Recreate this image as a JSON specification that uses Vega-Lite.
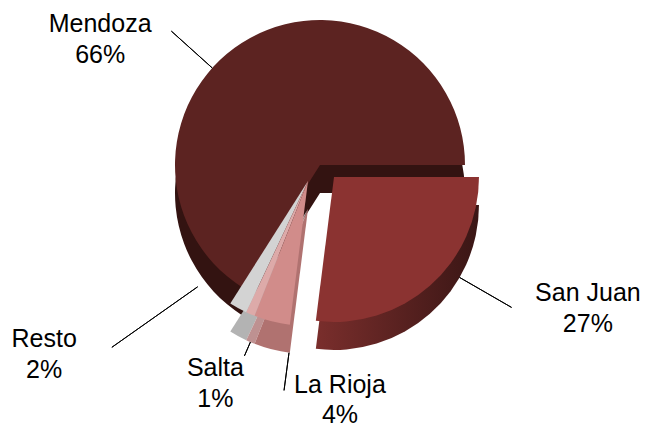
{
  "$schema": "https://vega.github.io/schema/vega-lite/v6.json",
  "width": 640,
  "height": 330,
  "padding": {"left": 0, "top": 0, "right": 5, "bottom": 100},
  "autosize": {"type": "none"},
  "background": "white",
  "view": {"stroke": null},
  "data": {"values": [
    {"region": "San Juan", "pct": 27},
    {"region": "La Rioja", "pct": 4},
    {"region": "Salta", "pct": 1},
    {"region": "Resto", "pct": 2},
    {"region": "Mendoza", "pct": 66}
  ]},
  "transform": [
    {"stack": "pct", "groupby": [], "as": ["s", "e"]},
    {"calculate": "(datum.s + datum.e) / 2", "as": "mid"},
    {"calculate": "datum.region + '\\n' + datum.pct + '%'", "as": "label"}
  ],
  "encoding": {
    "theta": {"field": "s", "type": "quantitative", "scale": {"domain": [0, 100], "range": [1.5708, 7.854]}},
    "theta2": {"field": "e"}
  },
  "layer": [
    {"transform": [{"filter": "datum.region == 'Mendoza'"}], "mark": {"type": "arc", "outerRadius": 145, "yOffset": 28, "fill": "#331311"}},
    {"transform": [{"filter": "datum.region == 'Resto'"}], "mark": {"type": "arc", "outerRadius": 145, "xOffset": -12, "yOffset": 44, "fill": "#B3B3B3"}},
    {"transform": [{"filter": "datum.region == 'Salta'"}], "mark": {"type": "arc", "outerRadius": 145, "xOffset": -12, "yOffset": 44, "fill": "#BE9191"}},
    {"transform": [{"filter": "datum.region == 'La Rioja'"}], "mark": {"type": "arc", "outerRadius": 145, "xOffset": -12, "yOffset": 44, "fill": "#B07270"}},
    {"transform": [{"filter": "datum.region == 'San Juan'"}], "mark": {"type": "arc", "outerRadius": 145, "xOffset": 14, "yOffset": 40, "fill": {"gradient": "linear", "x1": 0, "y1": 0, "x2": 1, "y2": 0, "stops": [{"offset": 0, "color": "#7A2E2C"}, {"offset": 1, "color": "#3A1615"}]}}},
    {"transform": [{"filter": "datum.region == 'Mendoza'"}], "mark": {"type": "arc", "outerRadius": 145, "fill": "#5C2321"}},
    {"transform": [{"filter": "datum.region == 'Resto'"}], "mark": {"type": "arc", "outerRadius": 145, "xOffset": -12, "yOffset": 16, "fill": "#D3D3D3"}},
    {"transform": [{"filter": "datum.region == 'Salta'"}], "mark": {"type": "arc", "outerRadius": 145, "xOffset": -12, "yOffset": 16, "fill": "#DDAAA9"}},
    {"transform": [{"filter": "datum.region == 'La Rioja'"}], "mark": {"type": "arc", "outerRadius": 145, "xOffset": -12, "yOffset": 16, "fill": "#D18C8A"}},
    {"transform": [{"filter": "datum.region == 'San Juan'"}], "mark": {"type": "arc", "outerRadius": 145, "xOffset": 14, "yOffset": 12, "fill": "#8B3331"}},
    {"transform": [{"filter": "datum.region == 'Mendoza'"}], "mark": {"type": "arc", "innerRadius": 145, "outerRadius": 200, "thetaOffset": -0.335, "theta2Offset": -0.335, "fill": "transparent", "stroke": "#000000", "strokeWidth": 1}, "encoding": {"theta": {"field": "mid", "type": "quantitative"}, "theta2": {"field": "mid"}}},
    {"transform": [{"filter": "datum.region == 'San Juan'"}], "mark": {"type": "arc", "innerRadius": 145, "outerRadius": 205, "xOffset": 14, "yOffset": 40, "thetaOffset": -0.325, "theta2Offset": -0.325, "fill": "transparent", "stroke": "#000000", "strokeWidth": 1}, "encoding": {"theta": {"field": "mid", "type": "quantitative"}, "theta2": {"field": "mid"}}},
    {"transform": [{"filter": "datum.region == 'La Rioja'"}], "mark": {"type": "arc", "innerRadius": 145, "outerRadius": 183, "xOffset": -12, "yOffset": 44, "thetaOffset": -0.12, "theta2Offset": -0.12, "fill": "transparent", "stroke": "#000000", "strokeWidth": 1}, "encoding": {"theta": {"field": "mid", "type": "quantitative"}, "theta2": {"field": "mid"}}},
    {"transform": [{"filter": "datum.region == 'Salta'"}], "mark": {"type": "arc", "innerRadius": 145, "outerRadius": 160, "xOffset": -12, "yOffset": 44, "fill": "transparent", "stroke": "#000000", "strokeWidth": 1}, "encoding": {"theta": {"field": "mid", "type": "quantitative"}, "theta2": {"field": "mid"}}},
    {"transform": [{"filter": "datum.region == 'Resto'"}], "mark": {"type": "arc", "innerRadius": 135, "outerRadius": 240, "xOffset": -12, "yOffset": 44, "thetaOffset": 0.454, "theta2Offset": 0.454, "fill": "transparent", "stroke": "#000000", "strokeWidth": 1}, "encoding": {"theta": {"field": "mid", "type": "quantitative"}, "theta2": {"field": "mid"}}},
    {"transform": [{"filter": "datum.region == 'Mendoza'"}], "mark": {"type": "text", "radius": 145, "dx": -150, "dy": -14, "font": "Liberation Sans", "fontSize": 25, "lineHeight": 31, "lineBreak": "\n", "align": "center", "baseline": "middle", "color": "#000000"}, "encoding": {"theta": {"field": "mid", "type": "quantitative"}, "theta2": null, "text": {"field": "label"}}},
    {"transform": [{"filter": "datum.region == 'San Juan'"}], "mark": {"type": "text", "radius": 145, "dx": 172, "dy": 19, "font": "Liberation Sans", "fontSize": 25, "lineHeight": 31, "lineBreak": "\n", "align": "center", "baseline": "middle", "color": "#000000"}, "encoding": {"theta": {"field": "mid", "type": "quantitative"}, "theta2": null, "text": {"field": "label"}}},
    {"transform": [{"filter": "datum.region == 'La Rioja'"}], "mark": {"type": "text", "radius": 145, "dx": 56, "dy": 80, "font": "Liberation Sans", "fontSize": 25, "lineHeight": 30, "lineBreak": "\n", "align": "center", "baseline": "middle", "color": "#000000"}, "encoding": {"theta": {"field": "mid", "type": "quantitative"}, "theta2": null, "text": {"field": "label"}}},
    {"transform": [{"filter": "datum.region == 'Salta'"}], "mark": {"type": "text", "radius": 145, "dx": -47, "dy": 70, "font": "Liberation Sans", "fontSize": 25, "lineHeight": 31, "lineBreak": "\n", "align": "center", "baseline": "middle", "color": "#000000"}, "encoding": {"theta": {"field": "mid", "type": "quantitative"}, "theta2": null, "text": {"field": "label"}}},
    {"transform": [{"filter": "datum.region == 'Resto'"}], "mark": {"type": "text", "radius": 145, "dx": -206, "dy": 47, "font": "Liberation Sans", "fontSize": 25, "lineHeight": 31, "lineBreak": "\n", "align": "center", "baseline": "middle", "color": "#000000"}, "encoding": {"theta": {"field": "mid", "type": "quantitative"}, "theta2": null, "text": {"field": "label"}}}
  ]
}
